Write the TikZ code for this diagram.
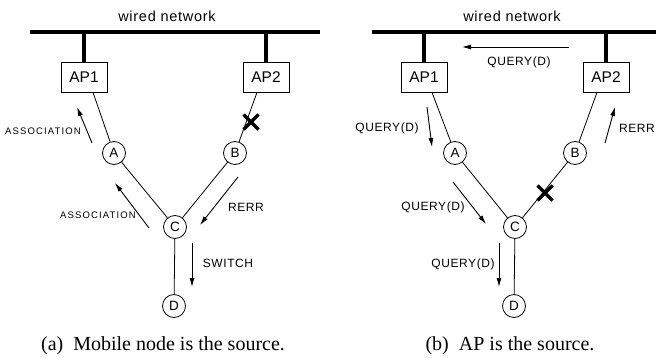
\documentclass[tikz,border=0pt]{standalone}
\usepackage{fontspec}
\setmainfont{Liberation Serif}
\newfontfamily\plainsans{Liberation Sans}
\newfontfamily\labfont[LetterSpace=5]{Liberation Sans}
\newfontfamily\widefont[LetterSpace=12]{Liberation Sans}
\usetikzlibrary{arrows.meta,calc}

\begin{document}
\begin{tikzpicture}[x=1pt,y=-1pt,
  wire/.style={line width=4pt},
  link/.style={line width=0.8pt},
  msg/.style={line width=0.9pt,-{Latex[length=9pt,width=5pt]}},
  apbox/.style={draw,line width=0.8pt,minimum width=46pt,minimum height=30pt,inner sep=0pt,
    font=\plainsans\fontsize{15.5}{15.5}\selectfont},
  mnode/.style={draw,circle,line width=0.8pt,minimum size=23pt,inner sep=0pt,fill=white,
    font=\plainsans\fontsize{13.5}{13.5}\selectfont},
  lbl/.style={font=\labfont\fontsize{12}{12}\selectfont,inner sep=0pt},
  smalllbl/.style={font=\widefont\fontsize{9.5}{10}\selectfont,inner sep=0pt},
  nettitle/.style={font=\labfont\fontsize{14.5}{14.5}\selectfont,inner sep=0pt},
  subcap/.style={font=\fontsize{20}{20}\selectfont,inner sep=0pt},
  cross/.style={line width=3.5pt}
]
\useasboundingbox (0,0) rectangle (656,358);

% ---------------- (a) mobile node is the source ----------------
\node[nettitle] (wa) at (167,16) {wired network};
\coordinate (busa1) at (30,32);
\coordinate (busa2) at (320,32);
\draw[wire] (busa1) -- (busa2);

\node[apbox] (ap1a) at (84,77) {AP1};
\node[apbox] (ap2a) at (266,77) {AP2};
\coordinate (tap1a) at (84,32);
\coordinate (tap2a) at (266,32);
\draw[wire] (tap1a) -- (ap1a.north);
\draw[wire] (tap2a) -- (ap2a.north);

\node[mnode] (Aa) at (114,153) {A};
\node[mnode] (Ba) at (235,153) {B};
\node[mnode] (Ca) at (175,227) {C};
\node[mnode] (Da) at (174,306) {D};

\draw[link] ($(ap1a.south)+(9,0)$) -- (Aa);
\draw[link] ($(ap2a.south)+(-9,0)$) -- (Ba);
\draw[link] (Aa) -- (Ca);
\draw[link] (Ba) -- (Ca);
\draw[link] (Ca) -- (Da);

\coordinate (xa) at (251,122);
\draw[cross] ($(xa)+(-7.5,-7.5)$) -- ($(xa)+(7.5,7.5)$);
\draw[cross] ($(xa)+(-7.5,7.5)$) -- ($(xa)+(7.5,-7.5)$);

\coordinate (as1s) at (92,143);
\coordinate (as1e) at (77,107);
\draw[msg] (as1s) -- (as1e);
\node[smalllbl] (as1l) at (43,131) {ASSOCIATION};

\coordinate (as2s) at (149,228);
\coordinate (as2e) at (115,183);
\draw[msg] (as2s) -- (as2e);
\node[smalllbl] (as2l) at (98,215) {ASSOCIATION};

\coordinate (reas) at (238,177);
\coordinate (reae) at (200,225);
\draw[msg] (reas) -- (reae);
\node[lbl] (real) at (246,207) {RERR};

\coordinate (swas) at (192,243);
\coordinate (swae) at (192,287);
\draw[msg] (swas) -- (swae);
\node[lbl] (swal) at (228,263) {SWITCH};

\node[subcap] (capa) at (163,346) {(a)\enspace Mobile node is the source.};

% ---------------- (b) AP is the source ----------------
\node[nettitle] (wb) at (512,16) {wired network};
\coordinate (busb1) at (372,32);
\coordinate (busb2) at (656,32);
\draw[wire] (busb1) -- (busb2);

\node[apbox] (ap1b) at (424,77) {AP1};
\node[apbox] (ap2b) at (606,77) {AP2};
\coordinate (tap1b) at (424,32);
\coordinate (tap2b) at (606,32);
\draw[wire] (tap1b) -- (ap1b.north);
\draw[wire] (tap2b) -- (ap2b.north);

\node[mnode] (Ab) at (455,153) {A};
\node[mnode] (Bb) at (575,153) {B};
\node[mnode] (Cb) at (515,227) {C};
\node[mnode] (Db) at (514,306) {D};

\draw[link] ($(ap1b.south)+(8,0)$) -- (Ab);
\draw[link] ($(ap2b.south)+(-9,0)$) -- (Bb);
\draw[link] (Ab) -- (Cb);
\draw[link] (Bb) -- (Cb);
\draw[link] (Cb) -- (Db);

\coordinate (xb) at (545,193);
\draw[cross] ($(xb)+(-7.5,-7.5)$) -- ($(xb)+(7.5,7.5)$);
\draw[cross] ($(xb)+(-7.5,7.5)$) -- ($(xb)+(7.5,-7.5)$);

\coordinate (q1s) at (569,47);
\coordinate (q1e) at (462,47);
\draw[msg] (q1s) -- (q1e);
\node[lbl] (q1l) at (519,62) {QUERY(D)};

\coordinate (q2s) at (427,107);
\coordinate (q2e) at (432,147);
\draw[msg] (q2s) -- (q2e);
\node[lbl] (q2l) at (387,128) {QUERY(D)};

\coordinate (rbs) at (605,143);
\coordinate (rbe) at (615,107);
\draw[msg] (rbs) -- (rbe);
\node[lbl] (rbl) at (637,128) {RERR};

\coordinate (q3s) at (453,182);
\coordinate (q3e) at (486,224);
\draw[msg] (q3s) -- (q3e);
\node[lbl] (q3l) at (433,207) {QUERY(D)};

\coordinate (q4s) at (499,243);
\coordinate (q4e) at (499,287);
\draw[msg] (q4s) -- (q4e);
\node[lbl] (q4l) at (463,264) {QUERY(D)};

\node[subcap] (capb) at (510,346) {(b)\enspace AP is the source.};
\end{tikzpicture}
\end{document}
